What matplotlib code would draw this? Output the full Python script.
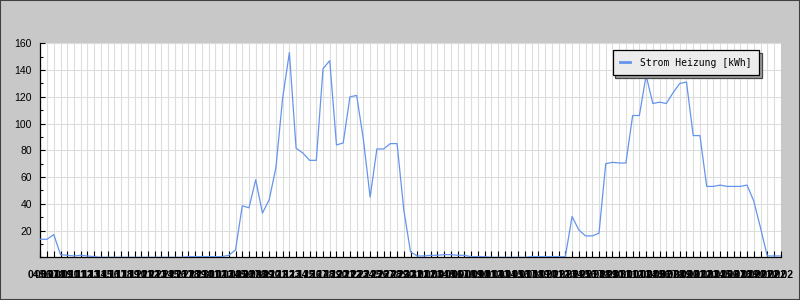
import matplotlib
matplotlib.use("Agg")
import matplotlib.pyplot as plt
from matplotlib.ticker import MultipleLocator
from matplotlib.patches import Rectangle
import datetime

# daily values, Strom Heizung [kWh]
strom_heizung = [
    13.5, 13.5, 17, 2, 1.5, 1, 1.5, 1, 0.5, 0,
    0, 0, 0, 0, 0, 0, 0, 0, 0, 0,
    0, 0, 0.5, 0.5, 0.5, 0.5, 0.5, 0.5, 1.5, 5.5,
    38.5, 37, 58, 33, 43, 67, 119, 153, 81.5, 78,
    72.5, 72.5, 141, 147, 84, 85.5, 120, 121, 88, 45,
    81, 81, 85, 85, 35.5, 4, 1, 1, 1.5, 1.5,
    2, 2, 1.5, 1.5, 0.5, 0.5, 0.5, 0, 0, 0,
    0, 0, 0, 0.5, 0.5, 0.5, 0.5, 0.5, 0.5, 30.5,
    20.5, 16, 16, 18, 70, 71, 70.5, 70.5, 106, 106,
    136, 115, 116, 115, 123, 130, 131, 91, 91, 53,
    53, 54, 53, 53, 53, 54, 42, 22, 1, 1,
    1,
]
start = datetime.date(2013, 11, 4)
day_labels = [(start + datetime.timedelta(days=i)).strftime("%d.%m")
              for i in range(len(strom_heizung))]
y_ticks = [20, 40, 60, 80, 100, 120, 140, 160]

bg = "#c8c8c8"
fig = plt.figure(figsize=(8, 3), dpi=100, facecolor=bg)
fig.patches.append(Rectangle((0, 0), 1, 1, transform=fig.transFigure,
                             fill=False, edgecolor="#404040", lw=1.5))
ax = fig.add_axes([0.0504, 0.1423, 0.9255, 0.7134])
ax.set_facecolor("white")

x = list(range(len(strom_heizung)))
ax.plot(x, strom_heizung, color="#6495ed", lw=0.9, label="Strom Heizung [kWh]",
        zorder=3)

ax.set_xlim(0, len(strom_heizung) - 1)
ax.set_ylim(0, 160)
ax.set_xticks(x)
ax.set_xticklabels(day_labels, fontsize=7.5, family="Liberation Sans",
                   fontweight="bold")
ax.set_yticks(y_ticks)
ax.set_yticklabels([str(v) for v in y_ticks], fontsize=7.5,
                   family="Liberation Sans")
ax.yaxis.set_minor_locator(MultipleLocator(10))

ax.tick_params(axis="x", direction="in", length=4, width=0.8, pad=9,
               colors="black")
ax.tick_params(axis="y", which="major", direction="in", length=3.6,
               width=0.8, pad=6)
ax.tick_params(axis="y", which="minor", direction="in", length=2.4,
               width=0.8)

ax.grid(True, which="major", color="#dddddd", lw=0.8, zorder=0)
ax.set_axisbelow(True)

for s in ["top", "right"]:
    ax.spines[s].set_visible(False)
for s in ["left", "bottom"]:
    ax.spines[s].set_linewidth(0.9)
    ax.spines[s].set_color("black")

leg = ax.legend(loc="upper right", bbox_to_anchor=(0.9775, 0.992),
                prop={"family": "DejaVu Sans Mono", "size": 7},
                frameon=True, fancybox=False, borderpad=0.8,
                handlelength=1.0, handletextpad=1.0,
                shadow={"facecolor": "#a0a0a0", "alpha": 1})
leg.get_frame().set_facecolor("#ececec")
leg.get_frame().set_edgecolor("black")
leg.get_frame().set_linewidth(0.9)
leg.get_frame().set_alpha(1)
for h in leg.get_lines():
    h.set_linewidth(2)

fig.savefig("out.png", dpi=100, facecolor=bg)
